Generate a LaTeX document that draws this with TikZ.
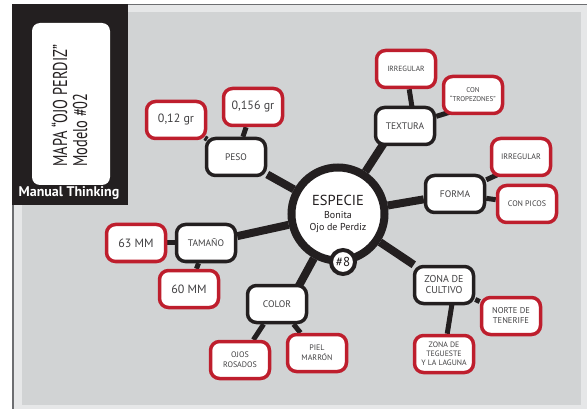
\documentclass[tikz,border=0pt]{standalone}
\usepackage{fontspec}
\setmainfont{PT Sans}
\usepackage{graphicx}
\definecolor{panelgray}{HTML}{D1D3D4}
\definecolor{bandgray}{HTML}{E6E7E8}
\definecolor{framegray}{HTML}{6D6E71}
\definecolor{inkblack}{HTML}{231F20}
\definecolor{leafred}{HTML}{BE1E2D}
\definecolor{textgray}{HTML}{414042}
\pgfdeclarelayer{background}
\pgfsetlayers{background,main}
\tikzset
{
    hub/.style       = {rectangle, rounded corners=9pt, draw=inkblack, line width=3.5pt, fill=white, align=center, text=textgray, minimum width=59pt, minimum height=37pt, inner sep=1pt, font=\fontsize{9.5}{11}\selectfont},
    leaf/.style      = {hub, draw=leafred, font=\fontsize{8}{10}\selectfont},
    bigleaf/.style   = {leaf, font=\fontsize{12}{14}\selectfont},
    smallleaf/.style = {leaf, font=\fontsize{7.5}{9}\selectfont},
    hubline/.style   = {draw=inkblack, line width=8pt},
    leafline/.style  = {draw=inkblack, line width=5pt}
}

\begin{document}
\begin{tikzpicture}[x=1pt, y=-1pt]
\useasboundingbox (0,0) rectangle (587,409);
\begin{pgfonlayer}{background}
\fill [bandgray] (12,4) rectangle (587,409);
\fill [panelgray] (22,12) rectangle (581,405);
\draw [framegray, line width=1.5pt] (12.75,409) -- (12.75,4.75) -- (587,4.75);
\end{pgfonlayer}
\fill [inkblack] (12,4) rectangle (128,205);
\fill [white, rounded corners=8pt] (32,23) rectangle (110,185);
\node [rotate=90, anchor=base west, inner sep=0pt, text=inkblack, font=\fontsize{20}{22}\selectfont] at (67,167) (mapa) {\scalebox{0.72}[1]{MAPA “OJO PERDIZ”}};
\node [rotate=90, anchor=base west, inner sep=0pt, text=inkblack, font=\fontsize{20}{22}\selectfont] at (87,167) (modelo) {\scalebox{0.72}[1]{Modelo \#02}};
\node [text=white, font=\bfseries\fontsize{14}{16}\selectfont] at (69,193) (marca) {Manual Thinking};
\node [circle, draw=inkblack, line width=8pt, fill=white, minimum size=93pt, align=center, text=inkblack, font=\fontsize{10}{12.5}\selectfont] at (338,214) (especie) {{\fontsize{14.5}{12.5}\selectfont ESPECIE}\\Bonita\\Ojo de Perdiz};
\node [circle, draw=inkblack, line width=4pt, fill=white, minimum size=24pt, inner sep=0pt, text=inkblack, font=\fontsize{13}{15}\selectfont] at (343,262) (numero) {\#8};
\node [hub] at (236,157) (peso) {PESO};
\node [hub] at (405,126) (textura) {TEXTURA};
\node [hub] at (455,194) (forma) {FORMA};
\node [hub] at (206,243) (tamano) {TAMAÑO};
\node [hub] at (277,304) (color) {COLOR};
\node [hub, font=\fontsize{10}{11}\selectfont] at (444,285) (zona) {ZONA DE\\CULTIVO};
\node [bigleaf] at (176,120) (gr12) {0,12 gr};
\node [bigleaf] at (253,107) (gr156) {0,156 gr};
\node [smallleaf] at (406,69) (irregtextura) {IRREGULAR};
\node [smallleaf, font=\fontsize{7}{9}\selectfont] at (473,95) (tropezones) {CON\\“TROPEZONES”};
\node [leaf] at (521,157) (irregforma) {IRREGULAR};
\node [leaf] at (527,204) (picos) {CON PICOS};
\node [bigleaf] at (136,243) (mm63) {63 MM};
\node [bigleaf] at (189,289) (mm60) {60 MM};
\node [leaf] at (240,360) (ojos) {OJOS\\ROSADOS};
\node [leaf] at (317,353) (piel) {PIEL\\MARRÓN};
\node [leaf, font=\fontsize{8.5}{10}\selectfont] at (511,316) (norte) {NORTE DE\\TENERIFE};
\node [smallleaf, font=\fontsize{7.8}{9}\selectfont] at (444,354) (tegueste) {ZONA DE\\TEGUESTE\\Y LA LAGUNA};
\begin{pgfonlayer}{background}
\draw [hubline] (especie) -- (peso);
\draw [hubline] (especie) -- ([xshift=-10pt]textura.center);
\draw [hubline] (especie) -- (forma);
\draw [hubline] (especie) -- (tamano);
\draw [hubline] (especie) -- ([xshift=12pt]color.center);
\draw [hubline] (especie) -- (zona);
\draw [leafline] (peso) -- (gr12);
\draw [leafline] (peso) -- (gr156);
\draw [leafline] ([xshift=10pt]textura.center) -- (irregtextura);
\draw [leafline] (textura) -- ([yshift=-10pt]tropezones.center);
\draw [leafline] (forma) -- ([yshift=-7pt]irregforma.center);
\draw [leafline] (forma) -- (picos);
\draw [leafline] (tamano) -- (mm63);
\draw [leafline] (tamano) -- (mm60);
\draw [leafline] (color) -- (ojos);
\draw [leafline] (color) -- (piel);
\draw [leafline] (zona) -- (norte);
\draw [leafline] ([xshift=11pt]zona.center) -- (tegueste);
\end{pgfonlayer}
\end{tikzpicture}
\end{document}
